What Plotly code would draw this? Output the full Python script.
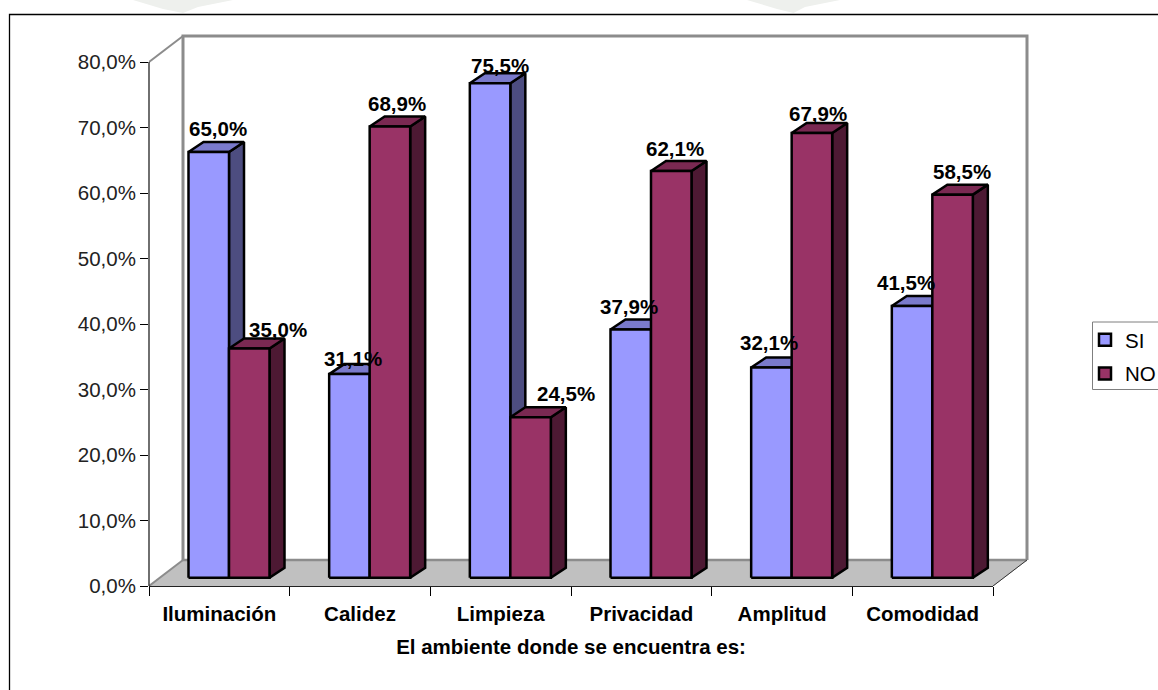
import plotly.graph_objects as go

# Survey results
categories = ["Iluminación", "Calidez", "Limpieza", "Privacidad", "Amplitud", "Comodidad"]
si_values = [65.0, 31.1, 75.5, 37.9, 32.1, 41.5]
no_values = [35.0, 68.9, 24.5, 62.1, 67.9, 58.5]
y_ticks = [0, 10, 20, 30, 40, 50, 60, 70, 80]

# Per-label nudges in pixels (right, up) from the centre of each bar's top edge
si_nudges = [(9.5, 24), (3.5, 16), (10, 18), (-2, 23), (-2, 25), (-6.5, 23)]
no_nudges = [(29, 19), (7, 23), (35, 24), (4, 23), (6, 20), (9, 23)]

W, H = 1158, 690
LEFT, BOTTOM_PX = 149, 586        # pixel position of the axes origin
TOP_PX, RIGHT_PX = 32, 1032       # outer edge of the plotting area
PX_PER_CAT = 844 / 6
PX_PER_UNIT = 524 / 80

FONT = "Liberation Sans, Arial, sans-serif"
FS = 20.5


def cx(px):
    return px / PX_PER_CAT


def cy(px):
    return px / PX_PER_UNIT


# Oblique projection used for the pseudo-3D look, in axis units
WALL_DX, WALL_DY = cx(34), cy(26)
BAR_DX, BAR_DY = cx(15), cy(10)
BAR_BASE = cy(8.2)
BAR_START, BAR_W = cx(39.5), cx(40.5)
N = len(categories)


def join_polys(polys):
    xs, ys = [], []
    for p in polys:
        xs += [q[0] for q in p] + [p[0][0], None]
        ys += [q[1] for q in p] + [p[0][1], None]
    return xs, ys


def faces(values, slot):
    front, side, top = [], [], []
    for i, v in enumerate(values):
        x0 = i + BAR_START + slot * BAR_W
        x1 = x0 + BAR_W
        y0, y1 = BAR_BASE, BAR_BASE + v
        front.append([(x0, y0), (x1, y0), (x1, y1), (x0, y1)])
        side.append([(x1, y0), (x1 + BAR_DX, y0 + BAR_DY), (x1 + BAR_DX, y1 + BAR_DY), (x1, y1)])
        top.append([(x0, y1), (x1, y1), (x1 + BAR_DX, y1 + BAR_DY), (x0 + BAR_DX, y1 + BAR_DY)])
    return front, side, top


def poly_trace(polys, color, group, edge="#000000", width=2.5):
    xs, ys = join_polys(polys)
    return go.Scatter(x=xs, y=ys, mode="lines", fill="toself", fillcolor=color,
                      line=dict(color=edge, width=width), hoverinfo="skip",
                      showlegend=False, legendgroup=group)


fig = go.Figure()

WALL = "#8c8c8c"
# Floor of the box
fig.add_trace(poly_trace([[(0, 0), (N, 0), (N + WALL_DX, WALL_DY), (WALL_DX, WALL_DY)]],
                         "#c0c0c0", "box", edge="#c0c0c0", width=1))
# Back walls and edges of the box
for xs, ys, c, w in [
    ([WALL_DX, WALL_DX, N + WALL_DX, N + WALL_DX], [WALL_DY, 80 + WALL_DY, 80 + WALL_DY, WALL_DY], WALL, 3),
    ([WALL_DX, N + WALL_DX], [WALL_DY, WALL_DY], WALL, 2.5),
    ([0, WALL_DX], [0, WALL_DY], WALL, 2),
    ([0, WALL_DX], [80, 80 + WALL_DY], WALL, 2),
    ([N, N + WALL_DX], [0, WALL_DY], "#333333", 1),
]:
    fig.add_trace(go.Scatter(x=xs, y=ys, mode="lines", line=dict(color=c, width=w),
                             hoverinfo="skip", showlegend=False))

# Bars: each series paints side, top, then front so the next series covers the previous side face
series = [
    ("SI", si_values, 0, "#9999ff", "#4d4d80", "#7a7acc"),
    ("NO", no_values, 1, "#993366", "#4d1933", "#7a2952"),
]
for name, values, slot, c_front, c_side, c_top in series:
    front, side, top = faces(values, slot)
    fig.add_trace(poly_trace(side, c_side, name))
    fig.add_trace(poly_trace(top, c_top, name))
    fig.add_trace(poly_trace(front, c_front, name))

# Legend entries
for name, values, slot, c_front, c_side, c_top in series:
    fig.add_trace(go.Scatter(x=[None], y=[None], mode="markers", name=name, legendgroup=name,
                             marker=dict(symbol="square", size=12, color=c_front,
                                         line=dict(color="#000000", width=2.5))))

# Carrier trace for the category axis
fig.add_trace(go.Scatter(x=[i + 0.5 for i in range(N)], y=[None] * N, xaxis="x2", yaxis="y",
                         mode="markers", showlegend=False, hoverinfo="skip"))

# Data labels
annotations = []
for values, slot, nudges in [(si_values, 0, si_nudges), (no_values, 1, no_nudges)]:
    for i, (v, (dx, dy)) in enumerate(zip(values, nudges)):
        annotations.append(dict(
            x=i + BAR_START + slot * BAR_W + BAR_W / 2, y=BAR_BASE + v,
            xref="x", yref="y", text=f"{v:.1f}".replace(".", ",") + "%",
            showarrow=False, xshift=dx, yshift=dy, xanchor="center", yanchor="middle",
            font=dict(family=FONT, size=FS, color="#000000", weight="bold"),
        ))


def paper_x(px):
    return (px - LEFT) / (RIGHT_PX - LEFT)


def paper_y(py):
    return (BOTTOM_PX - py) / (BOTTOM_PX - TOP_PX)


shapes = [
    # Vertical value axis, stopping at the top tick
    dict(type="line", xref="paper", yref="y", x0=0, x1=0, y0=0, y1=80,
         line=dict(color="#222222", width=1.3)),
    # Chart frame
    dict(type="path", xref="paper", yref="paper", layer="below",
         path=f"M {paper_x(9.5)} {paper_y(690)} L {paper_x(9.5)} {paper_y(14.5)} L {paper_x(1158)} {paper_y(14.5)}",
         line=dict(color="#000000", width=1.3)),
    # Legend box
    dict(type="rect", xref="paper", yref="paper", layer="below",
         x0=paper_x(1092.5), x1=paper_x(1160), y0=paper_y(389.5), y1=paper_y(322),
         line=dict(color="#7f7f7f", width=1)),
]

# Pale page watermark showing above the chart frame
for x0, x1 in [(133, 233), (747, 840)]:
    xa, xb, xc, xd = paper_x(x0), paper_x(x0 + 30), paper_x(x1 - 35), paper_x(x1)
    shapes.append(dict(type="path", xref="paper", yref="paper", layer="below",
                       path=f"M {xa} {paper_y(0)} L {xb} {paper_y(9)} L {paper_x((x0 + x1) / 2)} {paper_y(13)} "
                            f"L {xc} {paper_y(7)} L {xd} {paper_y(0)} Z",
                       fillcolor="#eef0ed", line=dict(width=0)))

fig.update_layout(
    width=W, height=H,
    paper_bgcolor="#ffffff", plot_bgcolor="rgba(0,0,0,0)",
    margin=dict(l=LEFT, r=W - RIGHT_PX, t=TOP_PX, b=H - BOTTOM_PX, pad=0, autoexpand=False),
    font=dict(family=FONT, size=FS, color="#000000"),
    annotations=annotations,
    shapes=shapes,
    showlegend=True,
    legend=dict(xref="container", yref="container", x=1085 / W, y=1 - 320 / H,
                xanchor="left", yanchor="top", bgcolor="rgba(0,0,0,0)", borderwidth=0,
                traceorder="grouped", tracegroupgap=4, font=dict(family=FONT, size=FS),
                itemclick=False, itemdoubleclick=False),
    xaxis=dict(range=[0, cx(RIGHT_PX - LEFT)], domain=[0, 1], tickmode="array",
               tickvals=list(range(N + 1)), ticktext=[""] * (N + 1), ticks="outside",
               ticklen=9, tickwidth=1.2, tickcolor="#000000",
               showgrid=False, zeroline=False, showline=False),
    xaxis2=dict(range=[0, N], domain=[0, 844 / (RIGHT_PX - LEFT)], anchor="y",
                tickmode="array", tickvals=[i + 0.5 for i in range(N)], ticktext=categories,
                ticks="outside", ticklen=9, tickcolor="rgba(0,0,0,0)",
                tickfont=dict(family=FONT, size=FS, color="#000000", weight="bold"),
                showgrid=False, zeroline=False, showline=True, linecolor="#222222", linewidth=1.3,
                title=dict(text="El ambiente donde se encuentra es:", standoff=15,
                           font=dict(family=FONT, size=FS, color="#000000", weight="bold"))),
    yaxis=dict(range=[0, cy(BOTTOM_PX - TOP_PX)], tickmode="array", tickvals=y_ticks,
               ticktext=[f"{v:.1f}".replace(".", ",") + "%" for v in y_ticks],
               ticks="outside", ticklen=8, tickwidth=1.2, tickcolor="#000000",
               tickfont=dict(family=FONT, size=FS, color="#222222"),
               showgrid=False, zeroline=False, showline=False),
)

fig.write_html("out.html", config={"displayModeBar": False})
